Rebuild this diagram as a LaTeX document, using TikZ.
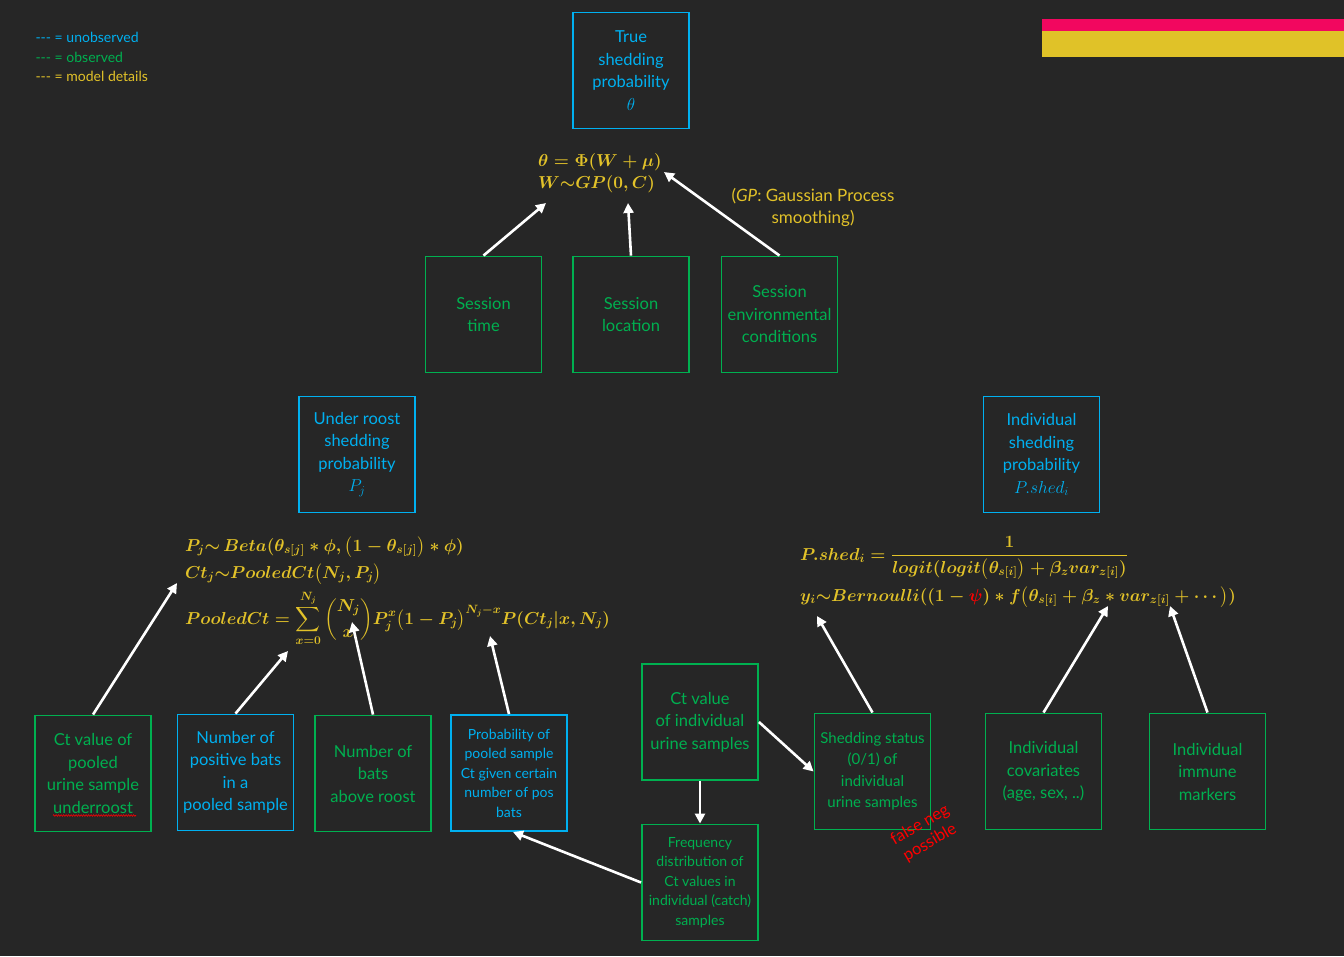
\documentclass[tikz,border=0pt]{standalone}
\usepackage{amsmath}
\usepackage{fontspec}
\setmainfont{Lato}
\usetikzlibrary{arrows.meta}
\usetikzlibrary{decorations.pathmorphing}
\definecolor{bgdark}{HTML}{262626}
\definecolor{obsgreen}{HTML}{00B050}
\definecolor{unobsblue}{HTML}{00B0F0}
\definecolor{modelyellow}{HTML}{E2C229}
\definecolor{barpink}{HTML}{F2075F}
\definecolor{baryellow}{HTML}{E0C228}
\tikzset{box/.style={draw, line width=1.9pt, minimum width=116pt, minimum height=116pt, align=center, inner sep=1pt, font=\fontsize{16.5}{22.5}\selectfont}}
\tikzset{obs/.style={box, draw=obsgreen, text=obsgreen}}
\tikzset{unobs/.style={box, draw=unobsblue, text=unobsblue}}
\tikzset{model/.style={text=modelyellow, font=\fontsize{17}{22}\selectfont\boldmath, inner sep=0pt}}
\tikzset{legend/.style={anchor=west, font=\fontsize{14}{16}\selectfont}}
\tikzset{link/.style={draw=white, line width=2.6pt, -{Triangle[length=10pt,width=10pt]}}}

\begin{document}
\begin{tikzpicture}[x=1pt,y=-1pt]
  \fill[bgdark] (0,0) rectangle (1344,956);
  \useasboundingbox (0,0) rectangle (1344,956);
  % legend and bars
  \node[legend, text=unobsblue] (legunobs) at (32,37) {-{}-{}- = unobserved};
  \node[legend, text=obsgreen] (legobs) at (32,57) {-{}-{}- = observed};
  \node[legend, text=modelyellow] (legmodel) at (32,76) {-{}-{}- = model details};
  \fill[barpink] (1042,19) rectangle (1344,31);
  \fill[baryellow] (1042,31) rectangle (1344,57);
  % observed boxes
  \foreach \x/\y/\lab/\txt in {
    483.5/314.5/stime/{Session\\time},
    631/314.5/sloc/{Session\\location},
    779.5/314.5/senv/{Session\\environmental\\conditions},
    93/773.5/ctpool/{Ct value of\\pooled\\urine sample\\underroost},
    373/773.5/nbats/{Number of\\bats\\above roost},
    700/722/ctind/{Ct value\\of individual\\urine samples},
    1043.5/771.5/indcov/{Individual\\covariates\\(age, sex, ..)},
    1207.5/771.5/immune/{Individual\\immune\\markers}%
  } {
    \node[obs] (\lab) at (\x, \y) {\txt};
  }
  \node[obs, font=\fontsize{14}{19.5}\selectfont] (freqd) at (700,882.5) {Frequency\\distribution of\\Ct values in\\individual (catch)\\samples};
  \node[obs, font=\fontsize{15}{21.5}\selectfont] (shedst) at (872.5,771.5) {Shedding status\\(0/1) of\\individual\\urine samples};
  % unobserved boxes
  \foreach \x/\y/\lab/\txt in {
    631/70.5/truep/{True\\shedding\\probability\\$\theta$},
    357/454.5/roostp/{Under roost\\shedding\\probability\\$P_j$},
    1041.5/454.5/indivp/{Individual\\shedding\\probability\\$P.shed_i$},
    235.5/772.5/npos/{Number of\\positive bats\\in a\\pooled sample}%
  } {
    \node[unobs] (\lab) at (\x, \y) {\txt};
  }
  \node[unobs, font=\fontsize{14}{19.5}\selectfont] (probpool) at (509,773) {Probability of\\pooled sample\\Ct given certain\\number of pos\\bats};
  % model details
  \node[model, anchor=base west] (gpeq) at (538,166) {$\theta=\Phi(W+\mu)$};
  \node[model, anchor=base west] (gpprior) at (538,188) {$W{\sim}GP(\mathbf{0},C)$};
  \node[model, align=center, font=\fontsize{17}{22}\selectfont] (gpnote) at (813,207) {(\textit{GP}: Gaussian Process\\smoothing)};
  \node[model, anchor=base west] (betaeq) at (185,551) {$P_j{\sim}\,Beta(\theta_{s[j]}\ast\phi,\bigl(1-\theta_{s[j]}\bigr)\ast\phi)$};
  \node[model, anchor=base west] (pooledeq) at (185,578) {$Ct_j{\sim}PooledCt\bigl(N_j,P_j\bigr)$};
  \node[model, anchor=base west] (sumeq) at (185,624) {$PooledCt=\displaystyle\sum_{x=0}^{N_j}\binom{N_j}{x}P_j^x\bigl(1-P_j\bigr)^{N_j-x}P(Ct_j|x,N_j)$};
  \node[model, anchor=base west] (pshedeq) at (800,560) {$P.shed_i=\dfrac{1}{logit(logit\bigl(\theta_{s[i]}\bigr)+\beta_z var_{z[i]})}$};
  \node[model, anchor=base west] (berneq) at (800,601) {$y_i{\sim}Bernoulli((1-{\color{red}\psi})\ast f\bigl(\theta_{s[i]}+\beta_z\ast var_{z[i]}+\cdots\bigr))$};
  \node[text=red, rotate=30, align=center, font=\fontsize{16.5}{20}\selectfont] (falseneg) at (925,834) {false neg\\possible};
  \draw[red, line width=0.6pt, decorate, decoration={zigzag, amplitude=0.8pt, segment length=2.5pt}] (53,815.5) -- (136,815.5);
  % arrow ends
  \coordinate (gpL) at (546,203);
  \coordinate (gpM) at (628,203);
  \coordinate (gpR) at (664,172);
  \coordinate (betaT) at (177,583);
  \coordinate (sumT) at (288,651);
  \coordinate (binomT) at (352,622);
  \coordinate (probT) at (490,636);
  \coordinate (bernA) at (817,616);
  \coordinate (bernB) at (1108,606);
  \coordinate (bernC) at (1170,606);
  \foreach \u/\v in {
    stime.north/gpL,
    sloc.north/gpM,
    senv.north/gpR,
    ctpool.north/betaT,
    npos.north/sumT,
    nbats.north/binomT,
    probpool.north/probT,
    shedst.north/bernA,
    indcov.north/bernB,
    immune.north/bernC,
    ctind.south/freqd.north,
    ctind.east/shedst.west%
  }{
    \draw[link] (\u) -- (\v);
  }
  \draw[link] (freqd.west) -- ([xshift=4pt]probpool.south);
\end{tikzpicture}
\end{document}
